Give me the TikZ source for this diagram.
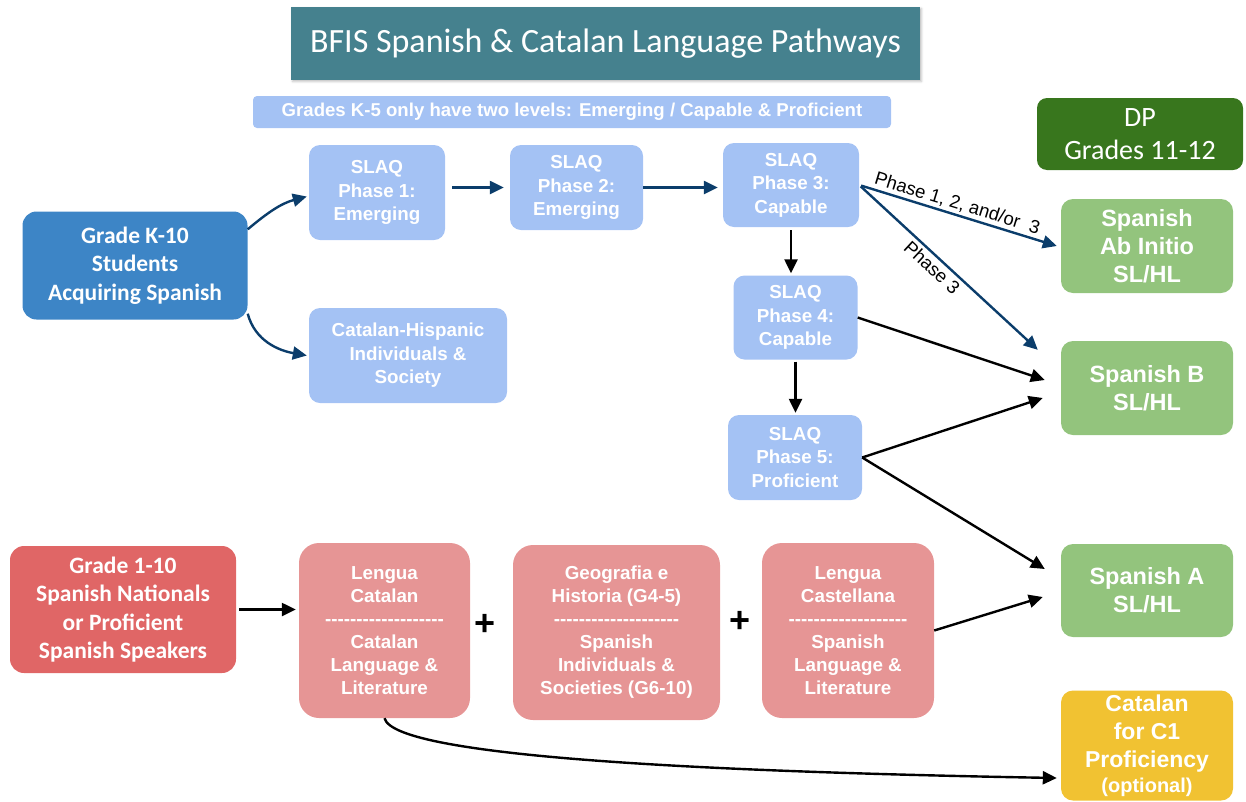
\documentclass[tikz,border=0pt]{standalone}
\usepackage{fontspec}
\setmainfont{Liberation Sans}
\newfontfamily\calibri{Carlito}
\usetikzlibrary{positioning, arrows.meta, shadows.blur}
\definecolor{bfTeal}{HTML}{45818E}
\definecolor{bfSlaq}{HTML}{A4C2F4}
\definecolor{bfBlue}{HTML}{3D85C6}
\definecolor{bfDkGreen}{HTML}{38761D}
\definecolor{bfGreen}{HTML}{93C47D}
\definecolor{bfRed}{HTML}{E06666}
\definecolor{bfPink}{HTML}{E69595}
\definecolor{bfYellow}{HTML}{F1C232}
\definecolor{bfNavy}{HTML}{0B3D6B}
\newcommand{\sepline}[1]{\foreach \d in {1,...,#1}{-\kern0pt}}

\begin{document}
\begin{tikzpicture}[x=1pt, y=-1pt,
    every node/.style={font=\bfseries\fontsize{18.8}{23}\selectfont, text=white, align=center, inner sep=0pt},
    titleBox/.style={fill=bfTeal, font=\calibri\fontsize{34}{40}\selectfont, blur shadow={shadow blur steps=3, shadow opacity=25, shadow xshift=1.5pt, shadow yshift=-1.5pt}},
    noteBox/.style={fill=bfSlaq, rounded corners=4pt, font=\bfseries\fontsize{18.6}{20}\selectfont},
    dpBox/.style={fill=bfDkGreen, rounded corners=10pt, font=\calibri\fontsize{28}{33}\selectfont},
    startBlue/.style={fill=bfBlue, rounded corners=14pt, font=\calibri\bfseries\fontsize{23.5}{28.5}\selectfont},
    startRed/.style={fill=bfRed, rounded corners=14pt, font=\calibri\bfseries\fontsize{23.5}{28.5}\selectfont},
    slaqBox/.style={fill=bfSlaq, rounded corners=11pt, font=\bfseries\fontsize{18.8}{23.5}\selectfont},
    courseBox/.style={fill=bfPink, rounded corners=20pt},
    dpGreen/.style={fill=bfGreen, rounded corners=12pt, font=\bfseries\fontsize{23.5}{28}\selectfont},
    dpYellow/.style={fill=bfYellow, rounded corners=12pt, font=\bfseries\fontsize{23}{28}\selectfont},
    plusSign/.style={text=black, font=\bfseries\fontsize{36}{36}\selectfont},
    rel/.style={text=black, font=\fontsize{18.5}{20}\selectfont, inner sep=2pt},
    link/.style={-{Triangle[length=14pt, width=13pt]}, line width=2.4pt, draw=black},
    navyLink/.style={link, draw=bfNavy},
]
\useasboundingbox (0,0) rectangle (1246,801);
% header
\node[titleBox, minimum width=629pt, minimum height=73pt] (title) at (605.5, 43.5) {BFIS Spanish \& Catalan Language Pathways};
\node[noteBox, minimum width=638pt, minimum height=32pt] (note) at (572, 112) {Grades K-5 only have two levels: Emerging / Capable \& Proficient};
\node[dpBox, minimum width=206pt, minimum height=72pt] (dp) at (1140, 134) {DP\\Grades 11-12};
% language acquisition pathway
\node[startBlue, minimum width=225pt, minimum height=108pt] (k10) at (135, 265.5) {Grade K-10\\Students\\Acquiring Spanish};
\node[slaqBox, minimum width=136pt, minimum height=95pt] (ph1) at (377, 192.5) {SLAQ\\Phase 1:\\Emerging};
\node[slaqBox, minimum width=133pt, minimum height=85pt] (ph2) at (576.5, 187.5) {SLAQ\\Phase 2:\\Emerging};
\node[slaqBox, minimum width=136pt, minimum height=84pt] (ph3) at (791, 185) {SLAQ\\Phase 3:\\Capable};
\node[slaqBox, minimum width=124pt, minimum height=84pt] (ph4) at (795.5, 317.5) {SLAQ\\Phase 4:\\Capable};
\node[slaqBox, minimum width=134pt, minimum height=85pt] (ph5) at (795, 457.5) {SLAQ\\Phase 5:\\Proficient};
\node[slaqBox, minimum width=198pt, minimum height=95pt] (chis) at (408, 355.5) {Catalan-Hispanic\\Individuals \&\\Society};
% native speaker pathway
\node[startRed, minimum width=226pt, minimum height=127pt] (g110) at (123, 609.5) {Grade 1-10\\Spanish Nationals\\or Proficient\\Spanish Speakers};
\node[courseBox, minimum width=171pt, minimum height=175pt] (lcat) at (384.5, 630.5) {Lengua\\Catalan\\\sepline{19}\\Catalan\\Language \&\\Literature};
\node[courseBox, minimum width=207pt, minimum height=175pt] (geo) at (616.5, 632.5) {Geografia e\\Historia (G4-5)\\\sepline{20}\\Spanish\\Individuals \&\\Societies (G6-10)};
\node[courseBox, minimum width=172pt, minimum height=175pt] (lcas) at (848, 630.5) {Lengua\\Castellana\\\sepline{19}\\Spanish\\Language \&\\Literature};
\node[plusSign] (plus1) at (485, 625) {+};
\node[plusSign] (plus2) at (740, 622) {+};
% DP courses
\node[dpGreen, minimum width=172pt, minimum height=94pt] (abinit) at (1147, 246) {Spanish\\Ab Initio\\SL/HL};
\node[dpGreen, minimum width=172pt, minimum height=94pt] (spB) at (1147, 388) {Spanish B\\SL/HL};
\node[dpGreen, minimum width=172pt, minimum height=93pt] (spA) at (1147, 590.5) {Spanish A\\SL/HL};
\node[dpYellow, minimum width=172pt, minimum height=110pt] (c1) at (1147, 745.5) {Catalan\\for C1\\Proficiency\\[-3pt]{\fontsize{20}{22}\selectfont(optional)}};
% connectors
\draw[navyLink] ([yshift=-18pt]k10.north east) to[out=40, in=195] ([xshift=-2pt, yshift=-4pt]ph1.west);
\draw[navyLink] ([yshift=6pt]k10.south east) to[out=-75, in=170] ([xshift=-2pt]chis.west);
\draw[navyLink, shorten <=7pt, shorten >=6pt] (ph1.east |- ph2.west) -- (ph2.west);
\draw[navyLink, shorten >=5pt] (ph2.east) -- (ph2.east -| ph3.west);
\draw[link, shorten <=3pt, shorten >=2pt] (ph3.south) -- (ph3.south |- ph4.north);
\draw[link, shorten <=2pt, shorten >=2pt] (ph4.south) -- (ph4.south |- ph5.north);
\draw[navyLink, shorten <=2pt] (ph3.east) -- node[rel, above, sloped, pos=0.48] {Phase 1, 2, and/or\ \ 3} ([xshift=-4pt]abinit.west);
\draw[navyLink, shorten <=2pt] (ph3.east) -- node[rel, below=1pt, sloped, pos=0.45] {Phase 3} ([xshift=-23pt, yshift=-9pt]spB.north west);
\draw[link] (ph4.east) -- ([xshift=-16pt, yshift=8pt]spB.west);
\draw[link] (ph5.east) -- ([xshift=-18pt, yshift=-10pt]spB.west);
\draw[link] (ph5.east) -- ([xshift=-16pt, yshift=21.5pt]spA.west);
\draw[link] (lcas.east) -- ([xshift=-18pt, yshift=-6.5pt]spA.west);
\draw[link, shorten <=3pt, shorten >=3pt] (g110.east) -- (g110.east -| lcat.west);
\draw[link] (lcat.south) .. controls +(10,40) and +(-330,-6) .. ([xshift=-4pt, yshift=-32.5pt]c1.west);
\end{tikzpicture}
\end{document}
